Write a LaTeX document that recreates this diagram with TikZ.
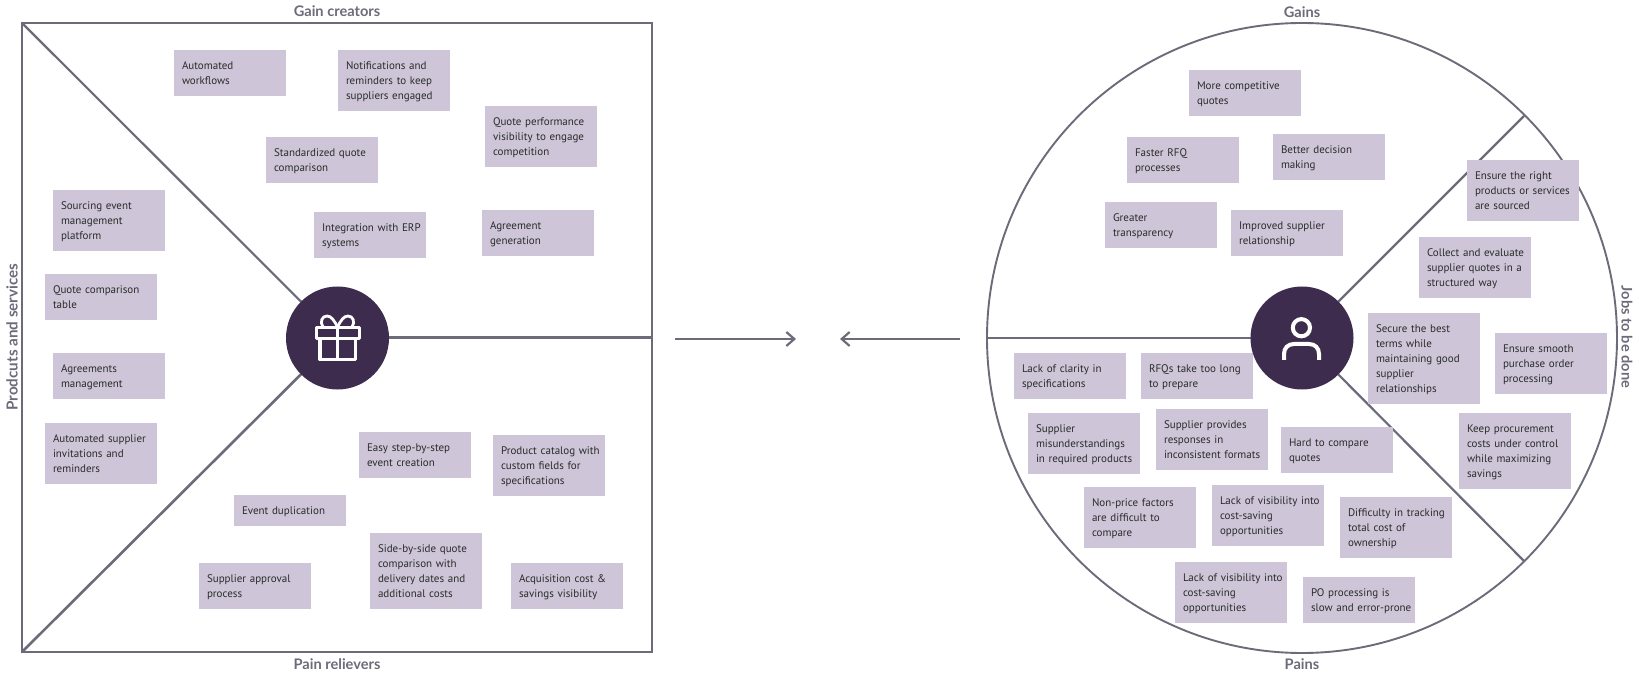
\documentclass[tikz,border=0pt]{standalone}
\usepackage{fontspec}
\setmainfont{Lato}
\newfontfamily\cardfont{PT Sans}
\usetikzlibrary{arrows.meta,positioning}
\definecolor{linegray}{HTML}{6B6B7A}
\definecolor{cardfill}{HTML}{CEC6D8}
\definecolor{hubfill}{HTML}{3D2C4E}
\definecolor{cardtext}{HTML}{2A2A2A}
\pgfdeclarelayer{front}
\pgfsetlayers{main,front}
\tikzset{
  card/.style={fill=cardfill, text=cardtext, anchor=north west, text width=104pt, inner xsep=4pt, inner ysep=8pt, outer sep=0pt, align=left,
    font=\cardfont\fontsize{11}{15}\selectfont,
    execute at begin node={\leftskip=4pt\rule{0pt}{11.5pt}}, execute at end node={\rule[-3.5pt]{0pt}{3.5pt}}},
  hub/.style={circle, fill=hubfill, minimum size=103pt, inner sep=0pt, outer sep=0pt},
  member/.style={draw=linegray, line width=2.2pt},
  heading/.style={text=linegray, font=\fontsize{14.6}{16}\selectfont\bfseries},
  sideheading/.style={text=linegray, font=\fontsize{15.2}{16}\selectfont\bfseries},
  icon/.style={draw=white, line width=3.3pt}
}
\begin{document}
\begin{tikzpicture}[x=1pt,y=-1pt]
          \useasboundingbox (0,0) rectangle (1639,676);
          % Define coordinates
          \coordinate (NW) at (22,23);
          \coordinate (SW) at (22,652);
          \coordinate (NE) at (652,23);
          \coordinate (SE) at (652,652);
          \coordinate (E) at (652,338);
          \coordinate (ringC) at (1302,338);
          \coordinate (ringW) at (987,338);
          \coordinate (ringNE) at (1524,116);
          \coordinate (ringSE) at (1524,561);
          \coordinate (arrowA) at (675,339);
          \coordinate (arrowB) at (796,339);
          \coordinate (arrowC) at (960,339);
          \coordinate (arrowD) at (840,339);
          % Hubs with their icons
          \begin{pgfonlayer}{front}
          \node[hub] (gift) at (337.5,338) {};
          \node[hub] (user) at (1302,338) {};
          \draw[icon, line join=round] (316.3,327.6) rectangle (359.2,338.5);
          \draw[icon, line join=round] (320,338.5) -- (320,359.7) -- (355.2,359.7) -- (355.2,338.5);
          \draw[icon] (337.7,327) -- (337.7,360);
          \draw[icon, line width=2.8pt] (337.5,327) .. controls (334,320) and (331,316) .. (327,316) .. controls (322,316) and (319.5,322) .. (323,327);
          \draw[icon, line width=2.8pt] (337.5,327) .. controls (341,320) and (344,316) .. (348,316) .. controls (353,316) and (355.5,322) .. (352,327);
          \draw[icon, line width=4pt] (1301.4,327.7) circle (8.6);
          \draw[icon, line width=4pt] (1284,360) -- (1284,354) .. controls (1284,348) and (1288,344) .. (1294,344) -- (1309,344) .. controls (1315,344) and (1319,348) .. (1319,354) -- (1319,360);
          \end{pgfonlayer}
          % Square
          \draw[member] (NW) rectangle (SE);
          \draw[member] (NW) -- (gift);
          \draw[member, line width=2.6pt] (SW) -- (gift);
          \draw[member, line width=3pt] (gift) -- (E);
          % Circle
          \draw[member, line width=1.9pt] (ringC) circle (315);
          \draw[member, line width=2.6pt] (ringW) -- (user);
          \draw[member] (user) -- (ringNE);
          \draw[member] (user) -- (ringSE);
          % Arrows between the two
          \draw[member, -{Straight Barb[length=8pt,width=14pt]}] (arrowA) -- (arrowB);
          \draw[member, -{Straight Barb[length=8pt,width=14pt]}] (arrowC) -- (arrowD);
          % Headings
          \node[heading] (gaincreators) at (337,11) {Gain creators};
          \node[heading] (painrelievers) at (337,664) {Pain relievers};
          \node[heading] (gains) at (1302,12) {Gains};
          \node[heading] (pains) at (1302,664) {Pains};
          \node[sideheading, rotate=90] (products) at (12,337) {Prodcuts and services};
          \node[heading, rotate=-90] (jobs) at (1627,337) {Jobs to be done};
          % Gain creators
          \node[card] (workflows) at (174,50) {Automated\\workflows};
          \node[card] (reminders) at (338,50) {Notifications and\\reminders to keep\\suppliers engaged};
          \node[card] (visibility) at (485,106) {Quote performance\\visibility to engage\\competition};
          \node[card] (standard) at (266,137) {Standardized quote\\comparison};
          \node[card] (erp) at (314,212) {Integration with ERP\\systems};
          \node[card] (generation) at (482,210) {Agreement\\generation};
          % Products and services
          \node[card] (platform) at (53,190) {Sourcing event\\management\\platform};
          \node[card] (table) at (45,274) {Quote comparison\\table};
          \node[card] (agreements) at (53,353) {Agreements\\management};
          \node[card] (invitations) at (45,423) {Automated supplier\\invitations and\\reminders};
          % Pain relievers
          \node[card] (easy) at (359,432) {Easy step-by-step\\event creation};
          \node[card] (catalog) at (493,435) {Product catalog with\\custom fields for\\specifications};
          \node[card] (duplication) at (234,495) {Event duplication};
          \node[card] (approval) at (199,563) {Supplier approval\\process};
          \node[card] (sidebyside) at (370,533) {Side-by-side quote\\comparison with\\delivery dates and\\additional costs};
          \node[card] (acquisition) at (511,563) {Acquisition cost \&\\savings visibility};
          % Gains
          \node[card] (competitive) at (1189,70) {More competitive\\quotes};
          \node[card] (faster) at (1127,137) {Faster RFQ\\processes};
          \node[card] (better) at (1273,134) {Better decision\\making};
          \node[card] (greater) at (1105,202) {Greater\\transparency};
          \node[card] (improved) at (1231,210) {Improved supplier\\relationship};
          % Jobs to be done
          \node[card] (ensureright) at (1467,160) {Ensure the right\\products or services\\are sourced};
          \node[card] (collect) at (1419,237) {Collect and evaluate\\supplier quotes in a\\structured way};
          \node[card] (secure) at (1368,313) {Secure the best\\terms while\\maintaining good\\supplier\\relationships};
          \node[card] (smooth) at (1495,333) {Ensure smooth\\purchase order\\processing};
          \node[card] (keep) at (1459,413) {Keep procurement\\costs under control\\while maximizing\\savings};
          % Pains
          \node[card] (clarity) at (1014,353) {Lack of clarity in\\specifications};
          \node[card] (rfqs) at (1141,353) {RFQs take too long\\to prepare};
          \node[card] (misunder) at (1028,413) {Supplier\\misunderstandings\\in required products};
          \node[card] (responses) at (1156,409) {Supplier provides\\responses in\\inconsistent formats};
          \node[card] (hard) at (1281,427) {Hard to compare\\quotes};
          \node[card] (nonprice) at (1084,487) {Non-price factors\\are difficult to\\compare};
          \node[card] (lackA) at (1212,485) {Lack of visibility into\\cost-saving\\opportunities};
          \node[card] (tracking) at (1340,497) {Difficulty in tracking\\total cost of\\ownership};
          \node[card] (lackB) at (1175,562) {Lack of visibility into\\cost-saving\\opportunities};
          \node[card] (po) at (1303,577) {PO processing is\\\mbox{slow and error-prone}};
        \end{tikzpicture}
\end{document}
